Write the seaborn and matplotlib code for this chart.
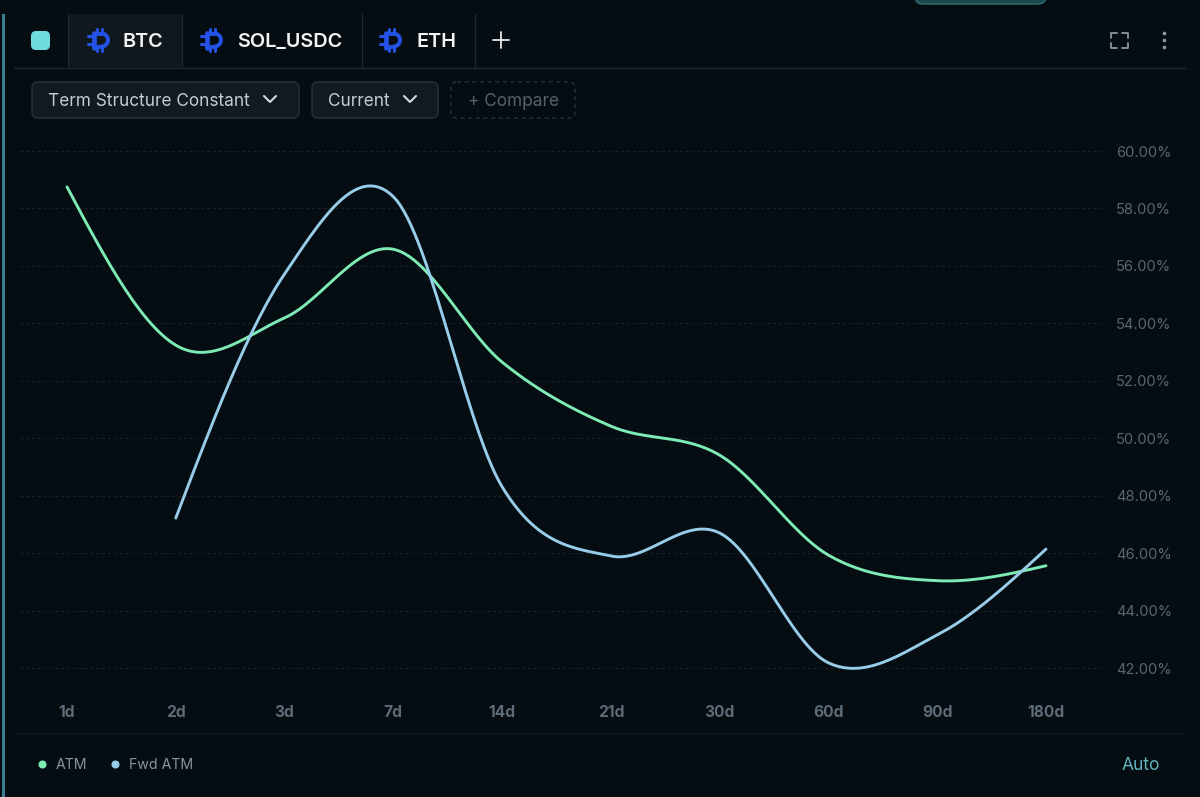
import numpy as np
import pandas as pd
import matplotlib
matplotlib.use("Agg")
import matplotlib.pyplot as plt
import seaborn as sns
from matplotlib.lines import Line2D
from matplotlib.patches import FancyBboxPatch, Rectangle

tenors = ["1d", "2d", "3d", "7d", "14d", "21d", "30d", "60d", "90d", "180d"]
atm = [58.75, 53.24, 54.19, 56.58, 52.65, 50.42, 49.41, 45.93, 45.04, 45.56]
fwd_atm = [np.nan, 47.22, 55.72, 58.41, 48.31, 45.90, 46.70, 42.18, 43.15, 46.14]
y_ticks = [42, 44, 46, 48, 50, 52, 54, 56, 58, 60]
tabs = ["BTC", "SOL_USDC", "ETH"]

BG = "#050c12"
ATM_COLOR = "#7eeab4"
FWD_COLOR = "#97cde8"

sns.set_theme(style="dark")
plt.rcParams["font.family"] = ["Inter", "DejaVu Sans"]


def smooth_line(values, per_step=30):
    # catmull-rom between the points, the way the chart rounds its lines
    y = np.asarray(values, dtype=float)
    x = np.arange(len(y))
    keep = ~np.isnan(y)
    x, y = x[keep], y[keep]
    p = np.concatenate(([y[0]], y, [y[-1]]))
    slopes = (p[2:] - p[:-2]) / 2
    # free ends, so the first and last stretch run nearly straight
    slopes[0] = (3 * (y[1] - y[0]) - slopes[1]) / 2
    slopes[-1] = (3 * (y[-1] - y[-2]) - slopes[-2]) / 2
    xs, ys = [], []
    t = np.linspace(0, 1, per_step, endpoint=False)
    for i in range(len(y) - 1):
        ys.append((2 * t ** 3 - 3 * t ** 2 + 1) * y[i] + (t ** 3 - 2 * t ** 2 + t) * slopes[i]
                  + (-2 * t ** 3 + 3 * t ** 2) * y[i + 1] + (t ** 3 - t ** 2) * slopes[i + 1])
        xs.append(x[i] + t)
    return np.append(np.concatenate(xs), x[-1]), np.append(np.concatenate(ys), y[-1])


fig = plt.figure(figsize=(12, 7.97), dpi=100, facecolor=BG)

# === page chrome, in pixels ===
ui = fig.add_axes([0, 0, 1, 1], zorder=0)
ui.set_xlim(0, 1200)
ui.set_ylim(797, 0)
ui.axis("off")


def box(x0, y0, x1, y1, fc, ec="none", r=6, **kw):
    ui.add_patch(FancyBboxPatch((x0 + r, y0 + r), x1 - x0 - 2 * r, y1 - y0 - 2 * r,
                                boxstyle=f"round,pad={r},rounding_size={r}", fc=fc, ec=ec,
                                lw=kw.pop("lw", 1), **kw))


def seg(xs, ys, color, lw=1.0, **kw):
    ui.add_line(Line2D(xs, ys, color=color, lw=lw, **kw))


def coin(cx, cy, color="#2452e6"):
    t = np.linspace(-np.pi / 2, np.pi / 2, 30)
    seg(cx + 2.5 + 6.5 * np.cos(t), cy + 6.5 * np.sin(t), color, 2.8)
    seg([cx - 5, cx + 2.5], [cy - 6.5, cy - 6.5], color, 2.8)
    seg([cx - 5, cx + 2.5], [cy + 6.5, cy + 6.5], color, 2.8)
    seg([cx - 5.5, cx - 5.5], [cy - 7.5, cy + 7.5], color, 3.4)
    seg([cx - 11, cx - 5], [cy - 4, cy - 4], color, 2.2)
    seg([cx - 11, cx - 5], [cy + 4, cy + 4], color, 2.2)
    for dx in (-2, 3):
        seg([cx + dx, cx + dx], [cy - 11, cy - 7], color, 2.2)
        seg([cx + dx, cx + dx], [cy + 7, cy + 11], color, 2.2)


def chevron(cx, cy, color="#d5dade"):
    seg([cx - 6, cx, cx + 6], [cy - 3, cy + 3, cy - 3], color, 1.5)


box(915, -12, 1046, 4, "#1d4a4e", "#2f7273", r=8)
ui.add_patch(Rectangle((2, 14), 3, 783, fc="#3a7f90", ec="none"))
box(31, 31, 50, 50, "#6fdcdc", r=5)
ui.add_patch(Rectangle((68, 14), 114, 54, fc="#10171d", ec="none"))
for sx in (68, 182, 362, 475):
    seg([sx, sx], [14, 68], "#20282f", 0.9)
seg([14, 1186], [68, 68], "#20282f", 0.9)
seg([14, 1186], [733, 733], "#11181e", 0.9)

for cx, tx, label in zip((99, 212, 391), (123, 237, 416), tabs):
    coin(cx, 40)
    ui.text(tx, 40, label, color="#f2f4f6", fontsize=14.3, fontweight="semibold", va="center_baseline")
seg([493, 509], [40, 40], "#e6e9ec", 1.3)
seg([501, 501], [32, 48], "#e6e9ec", 1.3)

# fullscreen and menu icons
for ex, hx in ((1111, 1117), (1128, 1122)):
    seg([hx, ex, ex], [33, 33, 38], "#8d969d", 1.3)
    seg([hx, ex, ex], [48, 48, 43], "#8d969d", 1.3)
ui.scatter([1164, 1164, 1164], [33, 40, 47], s=7, color="#8d969d", linewidths=0)

box(32, 82, 299, 118, "#12191f", "#2a3238")
box(312, 82, 438, 118, "#12191f", "#2a3238")
box(451, 82, 575, 118, BG, "#2a3238", ls=(0, (3, 2.5)))
ui.text(48, 99.5, "Term Structure Constant", color="#c4ccd2", fontsize=12.4, va="center_baseline")
ui.text(328, 99.5, "Current", color="#c4ccd2", fontsize=12.4, va="center_baseline")
ui.text(468, 99.5, "+ Compare", color="#56616b", fontsize=12.4, va="center_baseline")
chevron(270, 99)
chevron(410, 99)
ui.text(1122, 764, "Auto", color="#5fb3bd", fontsize=12.5, va="center_baseline")

# === chart ===
left, right, top, bottom = 20, 1102, 140, 695
ax = fig.add_axes([left / 1200, 1 - bottom / 797, (right - left) / 1200, (bottom - top) / 797], zorder=1)
ax.set_facecolor("none")

rows = []
for name, values in (("ATM", atm), ("Fwd ATM", fwd_atm)):
    xs, ys = smooth_line(values)
    rows.append(pd.DataFrame({"tenor": xs, "value": ys, "series": name}))
df = pd.concat(rows)

sns.lineplot(data=df, x="tenor", y="value", hue="series", sort=False, estimator=None,
             palette={"ATM": ATM_COLOR, "Fwd ATM": FWD_COLOR}, linewidth=2.1, legend=False, ax=ax)

px_per_step = (1046 - 67) / 9
ax.set_xlim(-(67 - left) / px_per_step, 9 + (right - 1046) / px_per_step)
px_per_pct = (668 - 151) / 18
ax.set_ylim(42 - (bottom - 668) / px_per_pct, 60 + (151 - top) / px_per_pct)

ax.set_xticks(range(len(tenors)), tenors)
ax.set_yticks(y_ticks, [f"{v:.2f}%" for v in y_ticks])
ax.yaxis.tick_right()
ax.tick_params(axis="x", length=0, pad=7.5, labelsize=11.2, labelcolor="#5d6c78")
ax.tick_params(axis="y", length=0, pad=10, labelsize=10.6, labelcolor="#5a6670")
for label in ax.get_xticklabels():
    label.set_fontweight("bold")
ax.set_xlabel("")
ax.set_ylabel("")
ax.grid(False)
ax.grid(True, axis="y", color="#1a2228", lw=0.7, ls=(0, (3, 3)))
ax.set_axisbelow(True)
sns.despine(ax=ax, left=True, bottom=True, top=True, right=True)

handles = [Line2D([], [], ls="none", marker="o", ms=4.8, color=c, label=n)
           for n, c in (("ATM", ATM_COLOR), ("Fwd ATM", FWD_COLOR))]
fig.legend(handles=handles, loc="center left", bbox_to_anchor=(28 / 1200, 1 - 765 / 797), ncols=2,
           frameon=False, fontsize=10.2, labelcolor="#8a949c", handletextpad=-0.06,
           columnspacing=1.0, borderpad=0, borderaxespad=0)

fig.savefig("out.png", dpi=100, facecolor=fig.get_facecolor())
